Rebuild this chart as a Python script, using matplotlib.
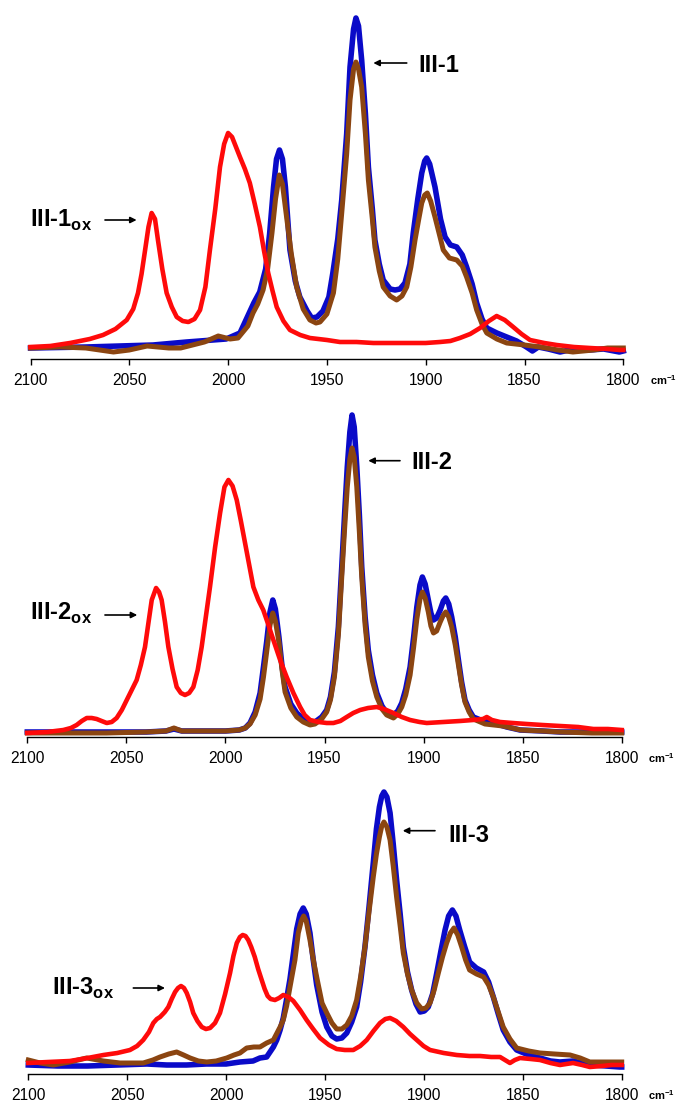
import matplotlib.pyplot as plt

plt.rcParams['font.family'] = ['Liberation Sans', 'DejaVu Sans']
plt.rcParams['mathtext.fontset'] = 'custom'
plt.rcParams['mathtext.rm'] = 'Liberation Sans'
plt.rcParams['mathtext.bf'] = 'Liberation Sans:bold'

BLUE = '#0a0ac8'
BROWN = '#8b4511'
RED = '#ff0a0a'

ticks = [2100, 2050, 2000, 1950, 1900, 1850, 1800]
tick_labels = ['2100', '2050', '2000', '1950', '1900', '1850', '1800']

# ---- panel 1 : III-1 ----
p1_blue_wn = [2100, 2072, 2038, 2021, 2001, 1994, 1987, 1984, 1981, 1979, 1977, 1975.5, 1974,
              1972.5, 1971, 1968.7, 1966, 1963.7, 1960, 1957.7, 1955, 1952, 1949, 1947, 1944.5,
              1942.5, 1940, 1938.3, 1936.5, 1935.3, 1934, 1932.4, 1930.5, 1929, 1927, 1925.7,
              1923.5, 1921.5, 1918, 1915.5, 1913, 1910.5, 1908, 1906.3, 1904, 1902, 1900.5,
              1899.5, 1898, 1895.3, 1892.5, 1890.2, 1887.5, 1884.3, 1881.5, 1879.3, 1876.5,
              1874.2, 1871.5, 1869.1, 1864, 1859, 1854, 1849, 1846, 1843, 1838, 1832, 1825,
              1817, 1810, 1802, 1800]
p1_blue = [11, 12, 14, 17, 20, 26, 56, 67, 90, 125, 172, 200, 209,
           200, 172, 109, 78, 62, 48, 41, 42, 48, 62, 86, 120,
           159, 225, 292, 330, 341, 333, 299, 245, 192, 150, 119,
           95, 79, 70, 69, 70, 76, 95, 126, 160, 186, 198,
           201, 195, 172, 140, 122, 114, 112, 104, 92, 75,
           56, 40, 31, 26, 22, 18, 12, 8, 12, 10, 7, 10,
           9, 10, 7, 8]

p1_brown_wn = [2100, 2085, 2072, 2058, 2050, 2041, 2030, 2024, 2012, 2005, 1999, 1995, 1990,
               1987.4, 1985, 1982.3, 1980, 1977.8, 1976, 1974.1, 1972.5, 1970.4, 1968, 1965.3,
               1962, 1958.6, 1955.5, 1953.5, 1950, 1946.7, 1944.5, 1942.5, 1940, 1938.3, 1936.5,
               1935.3, 1934, 1932.4, 1930.5, 1929, 1927, 1925.7, 1923.5, 1921.5, 1918, 1914.7,
               1912, 1909.6, 1907.5, 1905.4, 1903.5, 1902, 1900.5, 1899.2, 1897.5, 1895.3, 1893,
               1891.1, 1888, 1884.3, 1881.5, 1879.3, 1876.5, 1874.2, 1871.5, 1869.1, 1864, 1859,
               1850, 1842.2, 1833, 1825.5, 1815, 1808, 1801.7, 1800]
p1_brown = [11, 12, 11, 7, 9, 13, 11, 11, 17, 23, 20, 21, 33,
            46, 55, 69, 90, 126, 160, 184, 175, 142, 105, 72,
            50, 39, 36, 37, 45, 66, 100, 146, 205, 259, 290,
            297, 290, 272, 225, 179, 140, 112, 88, 72, 63, 59,
            63, 72, 92, 119, 140, 156, 164, 166, 158, 142, 124,
            109, 101, 99, 93, 82, 66, 49, 35, 26, 20, 16,
            14, 12, 9, 7, 9, 11, 11, 11]

p1_red_wn = [2100, 2090, 2080, 2070, 2063.3, 2057, 2051.3, 2048, 2045.6, 2043.8, 2042, 2040.3,
             2038.7, 2037, 2035.5, 2033.3, 2031.1, 2028.5, 2026, 2023, 2020.1, 2017, 2014.2,
             2011.5, 2009.2, 2006.5, 2004.1, 2002, 2000, 1998, 1996, 1994, 1991.5, 1989, 1986.5,
             1983.9, 1981.8, 1979.7, 1977.5, 1975.4, 1972, 1968.7, 1963.5, 1958.6, 1950, 1943.4,
             1935, 1926.5, 1918, 1909.6, 1900, 1892.8, 1887.5, 1882.7, 1877.5, 1872.5, 1868,
             1864.1, 1860, 1855.7, 1851.5, 1847.2, 1840, 1833.7, 1825, 1816.9, 1808, 1801.7, 1800]
p1_red = [12, 13, 16, 20, 24, 30, 39, 50, 66, 85, 109, 132,
          146, 140, 119, 90, 66, 52, 42, 38, 37, 40, 49,
          72, 109, 150, 192, 215, 226, 222, 212, 202, 190, 176, 155,
          132, 108, 86, 68, 52, 38, 29, 24, 21, 19, 17,
          17, 16, 16, 16, 16, 17, 18, 21, 25, 31, 38,
          43, 39, 32, 25, 19, 16, 14, 12, 11, 10, 9, 9]

# ---- panel 2 : III-2 ----
p2_blue_wn = [2100, 2080, 2060, 2040, 2030, 2026, 2022, 2010, 2000, 1993, 1990, 1987.6, 1985,
              1982.5, 1980.8, 1979.2, 1977.5, 1976.1, 1974.8, 1973, 1971.5, 1969.9, 1967, 1964,
              1960.7, 1957.3, 1954.8, 1951.4, 1948.9, 1947, 1945, 1943, 1941.3, 1939.8, 1938.5,
              1937.2, 1936.1, 1935, 1933.7, 1932.4, 1931.2, 1929.5, 1927.9, 1925.8, 1923.6, 1921,
              1918.6, 1915.2, 1913, 1911, 1909, 1906.8, 1905, 1903.4, 1901.8, 1900.6, 1899.2,
              1897.6, 1896.3, 1895, 1893.4, 1891.6, 1890, 1888.8, 1887.3, 1885.8, 1884, 1882.4,
              1880.8, 1879.1, 1877, 1874.9, 1870, 1864.8, 1858, 1851.3, 1840, 1831, 1815, 1800]
p2_blue = [5, 5, 5, 5, 6, 8, 6, 6, 6, 7, 9, 14, 25,
           44, 70, 95, 125, 137, 128, 100, 72, 50, 33, 24,
           18, 14, 15, 20, 27, 40, 65, 110, 170, 225, 270,
           305, 322, 310, 270, 222, 170, 120, 87, 62, 44, 31,
           24, 22, 26, 34, 48, 70, 100, 130, 152, 160, 153,
           137, 124, 117, 119, 127, 136, 139, 133, 120, 100, 77,
           55, 37, 27, 20, 16, 14, 10, 7, 6, 5, 5, 5]

p2_brown_wn = [2100, 2080, 2060, 2040, 2030, 2026, 2022, 2010, 2000, 1993, 1990, 1987.6, 1985,
               1982.5, 1980.8, 1979.2, 1977.5, 1976.1, 1974.8, 1973, 1971.5, 1969.9, 1967, 1964,
               1960.7, 1957.3, 1954.8, 1951.4, 1948.9, 1947, 1945, 1943, 1941.3, 1939.8, 1938.5,
               1937.2, 1936.1, 1935, 1933.7, 1932.4, 1931.2, 1929.5, 1927.9, 1925.8, 1923.6, 1921,
               1918.6, 1915.2, 1913, 1911, 1909, 1906.8, 1905, 1903.4, 1901.8, 1900.6, 1899.2,
               1897.6, 1896.3, 1895, 1893.4, 1891.6, 1890, 1888.8, 1887.3, 1885.8, 1884, 1882.4,
               1880.8, 1879.1, 1877, 1874.9, 1869, 1860, 1851, 1840, 1831, 1815, 1800]
p2_brown = [4, 4, 4, 5, 6, 9, 6, 6, 6, 7, 9, 13, 22,
            38, 60, 85, 112, 124, 116, 95, 68, 45, 29, 20,
            15, 12, 13, 18, 25, 37, 60, 102, 160, 210, 250,
            278, 289, 280, 250, 205, 160, 112, 80, 56, 40, 28,
            22, 19, 23, 30, 42, 62, 90, 118, 138, 145, 139,
            125, 111, 104, 106, 115, 122, 125, 120, 110, 92, 72,
            52, 35, 25, 18, 13, 11, 7, 6, 5, 4, 4]

p2_red_wn = [2100, 2090, 2081.8, 2078, 2075.1, 2072.5, 2070, 2067.5, 2065, 2062.5, 2059.9, 2057.4,
             2054.9, 2052.3, 2049.8, 2047.3, 2044.8, 2042.7, 2040.6, 2038.8, 2037.2, 2035, 2033.5,
             2032.2, 2030.5, 2028.8, 2026.7, 2024.6, 2022.5, 2020.4, 2018.3, 2016.2, 2014, 2012,
             2009.9, 2007.8, 2005.2, 2002.7, 2000.5, 1998.5, 1996.4, 1994.3, 1992.2, 1990.1, 1988,
             1985.9, 1983.4, 1980.9, 1978.3, 1975.8, 1972.4, 1969.1, 1965.7, 1962.3, 1960, 1957.3,
             1953, 1948.9, 1945.5, 1942, 1938.8, 1935.5, 1932, 1928, 1923.6, 1920, 1915.2, 1911,
             1906.8, 1902, 1898.4, 1890, 1881.6, 1875, 1870, 1868.1, 1865.5, 1861.4, 1855, 1847.9,
             1840, 1831.1, 1822, 1814.3, 1807, 1800]
p2_red = [4, 5, 7, 9, 12, 16, 19, 19, 18, 16, 14, 15,
          19, 27, 37, 47, 57, 72, 90, 115, 137, 149, 145,
          137, 115, 90, 68, 50, 44, 42, 44, 50, 67, 90,
          120, 150, 190, 224, 250, 257, 251, 237, 216, 194, 172,
          150, 137, 127, 112, 97, 77, 60, 44, 30, 22, 17,
          15, 14, 14, 16, 20, 24, 27, 29, 30, 28, 24, 20,
          17, 15, 14, 15, 16, 17, 18, 20, 17, 15, 14, 13,
          12, 11, 10, 8, 8, 7]

# ---- panel 3 : III-3 ----
p3_blue_wn = [2100, 2085, 2070, 2055, 2040, 2030, 2020, 2010, 2000, 1993, 1986.4, 1982.9, 1979.5,
              1976.1, 1974.4, 1972.7, 1971.1, 1969.4, 1967.7, 1966, 1964.3, 1962.6, 1961, 1959.5,
              1957.6, 1956, 1954.2, 1951.5, 1949.1, 1946.5, 1944.1, 1941.5, 1939, 1936.5, 1934,
              1932, 1929.8, 1927.7, 1925.6, 1924, 1922.5, 1921.3, 1920.2, 1918.7, 1917.1, 1915.5,
              1913.8, 1912, 1910.4, 1908.3, 1906.2, 1904, 1901.9, 1899.8, 1897.8, 1895.6, 1893.5,
              1891.4, 1889.3, 1887.5, 1885.6, 1883.8, 1881.9, 1879.5, 1876.9, 1873.5, 1869.8,
              1867.3, 1864.9, 1862.4, 1859.9, 1856.5, 1853.1, 1847, 1841.3, 1836, 1831.2, 1824.6,
              1820, 1814.4, 1808, 1801, 1800]
p3_blue = [9, 8, 8, 9, 10, 9, 9, 10, 10, 12, 13, 16, 17,
           27, 34, 44, 56, 75, 95, 120, 145, 160, 166, 160,
           141, 115, 89, 62, 47, 38, 35, 36, 41, 52, 67,
           92, 127, 168, 211, 245, 267, 278, 282, 277, 261, 230,
           194, 160, 127, 102, 84, 70, 62, 63, 67, 80, 101,
           123, 144, 158, 164, 158, 144, 128, 112, 106, 102,
           92, 77, 60, 44, 32, 24, 19, 16, 13, 12, 13,
           11, 9, 8, 7, 7]

p3_brown_wn = [2100, 2094, 2087.4, 2079, 2070.5, 2062, 2053.6, 2041.9, 2037, 2033.4, 2029, 2025,
               2021.5, 2018.2, 2014, 2009.8, 2005, 1999.7, 1996, 1993, 1989.6, 1986, 1982.9,
               1979.5, 1976.1, 1972.7, 1971.1, 1969.4, 1967.7, 1965.2, 1963.5, 1962, 1960.8,
               1959.5, 1957.6, 1955.7, 1954, 1951.5, 1949.1, 1946.5, 1944.1, 1941.5, 1939, 1936.5,
               1934, 1932, 1929.8, 1927.7, 1925.6, 1924, 1922.5, 1921.3, 1920.2, 1918.7, 1917.1,
               1915.5, 1913.8, 1912, 1910.4, 1908.3, 1906.2, 1903.6, 1901.1, 1899, 1896.9, 1894.8,
               1892.7, 1890.6, 1888.5, 1886.6, 1884.8, 1882.9, 1880.9, 1878.9, 1876.9, 1873.4,
               1869.8, 1867.3, 1864.9, 1862.4, 1859.9, 1856.5, 1853.1, 1847, 1841.3, 1834, 1826.1,
               1821, 1816.1, 1808, 1801, 1800]
p3_brown = [14, 11, 9, 12, 16, 13, 11, 11, 14, 17, 20, 22,
            19, 16, 13, 12, 13, 16, 19, 21, 26, 27, 27,
            31, 34, 47, 54, 68, 87, 114, 141, 153, 158,
            153, 134, 112, 95, 71, 61, 51, 45, 45, 49, 58,
            74, 97, 127, 163, 197, 220, 237, 248, 252, 247, 234,
            208, 177, 148, 121, 100, 84, 71, 65, 66, 71, 84,
            101, 117, 131, 141, 146, 139, 127, 114, 104, 100,
            97, 89, 77, 62, 47, 35, 26, 23, 21, 20, 19,
            16, 12, 12, 12, 12]

p3_red_wn = [2100, 2090, 2079, 2070, 2062, 2055, 2048.6, 2045, 2041.9, 2039, 2036.8, 2035, 2033.4,
             2031, 2029.2, 2027.5, 2025.8, 2024.3, 2022.8, 2021.3, 2019.9, 2018.2, 2016.6, 2014.5,
             2012.3, 2010.2, 2008.1, 2005.6, 2003.1, 2000.5, 1998, 1996.3, 1994.6, 1993, 1991.6,
             1990.2, 1988.8, 1987.3, 1985.5, 1983.8, 1982, 1980.5, 1979, 1977.5, 1975.3, 1973.2,
             1971.1, 1968.5, 1966, 1962.6, 1959.3, 1956, 1952.5, 1948, 1944.1, 1940, 1935.7,
             1932.2, 1928.9, 1925.5, 1922.2, 1919.5, 1917.1, 1914, 1910.4, 1907, 1903.6, 1900.2,
             1896.9, 1890, 1883.4, 1877, 1871.6, 1866, 1861.5, 1859, 1856.5, 1854, 1851.4, 1846,
             1841.3, 1836, 1831.2, 1828, 1824.6, 1820, 1816.1, 1810, 1805, 1800]
p3_red = [11, 12, 13, 16, 19, 21, 24, 28, 34, 42, 51, 55, 57,
          62, 67, 75, 82, 86, 88, 86, 81, 72, 61, 53,
          47, 45, 46, 51, 61, 80, 101, 118, 131, 137, 139,
          138, 134, 127, 117, 105, 94, 85, 78, 75, 74, 76,
          79, 77, 73, 64, 54, 45, 36, 29, 25, 24, 24,
          28, 34, 43, 51, 55, 56, 53, 47, 40, 34, 28,
          24, 21, 19, 18, 18, 17, 17, 14, 11, 14, 16, 15,
          14, 11, 9, 10, 11, 9, 7, 8, 9, 9]


def draw_panel(fig, box, blue, brown, red, name, name_pos, name_arrow, ox_pos, ox_arrow):
    # box: left, right, axis y, top y  (pixels from top-left of the 680x1108 figure)
    left, right, base, top = box
    height = base - top
    ax = fig.add_axes([left / 680, (1108 - base) / 1108, (right - left) / 680, height / 1108])
    ax.set_xlim(2100, 1800)
    ax.set_ylim(0, height)

    ax.plot(blue[0], blue[1], color=BLUE, lw=4.0, solid_joinstyle='round', clip_on=False)
    ax.plot(brown[0], brown[1], color=BROWN, lw=3.6, solid_joinstyle='round', clip_on=False)
    ax.plot(red[0], red[1], color=RED, lw=3.3, solid_joinstyle='round', clip_on=False)

    for side in ['left', 'top', 'right']:
        ax.spines[side].set_visible(False)
    ax.spines['bottom'].set_linewidth(1.0)
    ax.set_yticks([])
    ax.set_xticks(ticks)
    ax.set_xticklabels(tick_labels)
    ax.tick_params(axis='x', direction='out', length=4.3, width=1.0, labelsize=11.2, pad=6)
    ax.patch.set_alpha(0)

    ax.annotate(r'$\mathbf{cm}^{\mathbf{-1}}$', xy=(1, 0), xycoords='axes fraction',
                xytext=(19, -18.4), textcoords='offset points', fontsize=8,
                ha='left', va='baseline')

    arrow = dict(arrowstyle='-|>', color='black', lw=1.2, mutation_scale=9,
                 shrinkA=0, shrinkB=0)
    ax.text(name_pos[0], name_pos[1], name, fontsize=17, fontweight='bold',
            ha='left', va='baseline')
    ax.annotate('', xy=name_arrow[1], xytext=name_arrow[0], arrowprops=arrow)
    ax.text(ox_pos[0], ox_pos[1], name + r'$_{\mathbf{ox}}$', fontsize=17, fontweight='bold',
            ha='left', va='baseline')
    ax.annotate('', xy=ox_arrow[1], xytext=ox_arrow[0], arrowprops=arrow)
    return ax


fig = plt.figure(figsize=(6.8, 11.08), dpi=100)

draw_panel(fig, (30.5, 623.3, 359, 0),
           (p1_blue_wn, p1_blue), (p1_brown_wn, p1_brown), (p1_red_wn, p1_red),
           'III-1', (1903.9, 287.3), ((1909.6, 296), (1926.5, 296)),
           (2100.3, 132.3), ((2062.3, 139), (2046.3, 139)))

draw_panel(fig, (27.3, 621.7, 737, 380),
           (p2_blue_wn, p2_blue), (p2_brown_wn, p2_brown), (p2_red_wn, p2_red),
           'III-2', (1906.0, 267.7), ((1911.9, 276.3), (1927.9, 276.3)),
           (2098.6, 117), ((2060.8, 122), (2044.5, 122)))

draw_panel(fig, (28.3, 621.7, 1074, 760),
           (p3_blue_wn, p3_blue), (p3_brown_wn, p3_brown), (p3_red_wn, p3_red),
           'III-3', (1887.7, 232.3), ((1894.4, 243.3), (1910.7, 243.3)),
           (2088.2, 79), ((2046.9, 86), (2030.9, 86)))

fig.savefig('out.png', dpi=100)
plt.close(fig)
